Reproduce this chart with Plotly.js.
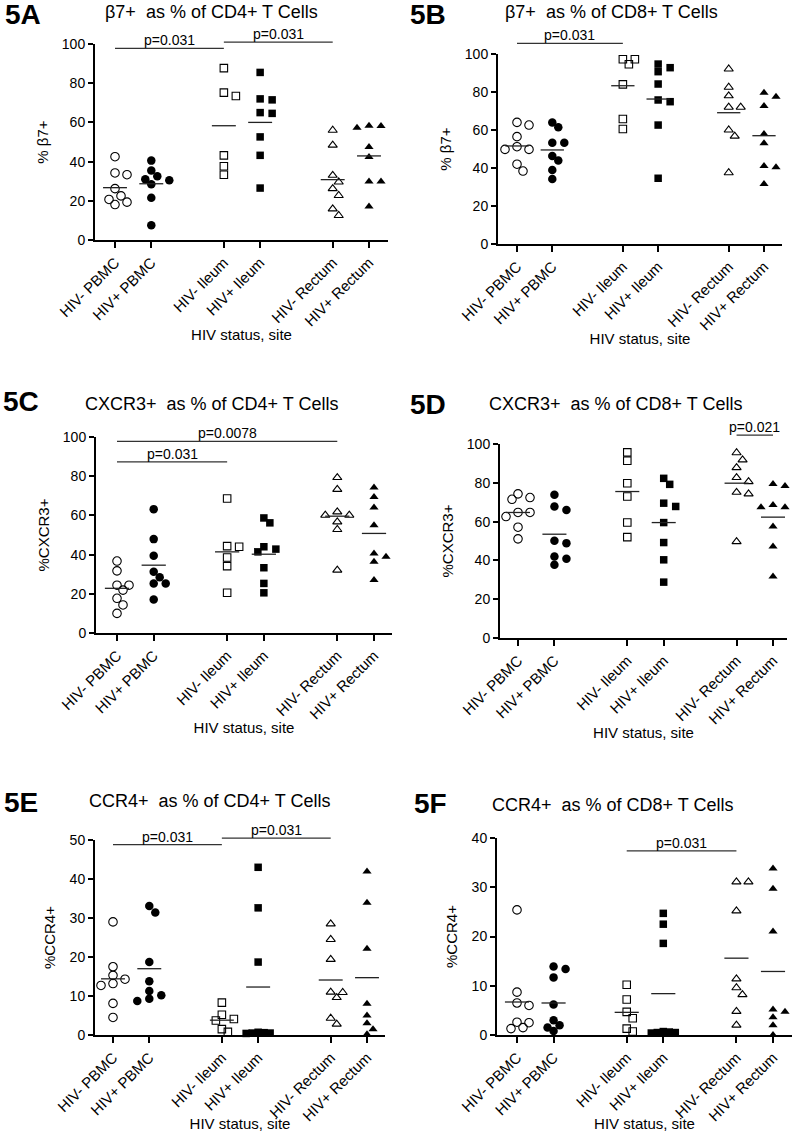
<!DOCTYPE html>
<html><head><meta charset="utf-8">
<script src="https://cdn.plot.ly/plotly-3.0.1.min.js"></script>
<style>html,body{margin:0;padding:0;background:#fff}#chart{width:795px;height:1132px}</style>
</head><body><div id="chart"></div>
<script>
// ---------- categories ----------
const groups = ["HIV- PBMC","HIV+ PBMC","HIV- Ileum","HIV+ Ileum","HIV- Rectum","HIV+ Rectum"];
const groupPos = [0,1,3,4,6,7];
const symbols = ["circle-open","circle","square-open","square","triangle-up-open","triangle-up"];

// ---------- 5A: beta7+ as % of CD4+ ----------
const b7CD4 = [
  [42.5, 34.2, 33.3, 26.2, 22.5, 20.7, 19.3, 18.1],
  [40.5, 35.5, 32.5, 31, 30.5, 28.5, 21.5, 7.5],
  [87.7, 75.2, 73.5, 43.2, 37.6, 33.3],
  [85.5, 72, 71.5, 65, 64.6, 52.6, 43.2, 26.5],
  [56, 48.4, 33, 29.6, 26.2, 22.7, 15.9, 12.5],
  [58.3, 58.1, 57.3, 47.5, 42.4, 29.9, 29.9, 17.1]
];
const b7CD4Mean = [26.7, 28.7, 58.3, 60, 30.8, 42.9];
const b7CD4P = [[0,3,97.8,"p=0.031"],[3,6,101,"p=0.031"]];

// ---------- 5B: beta7+ as % of CD8+ ----------
const b7CD8 = [
  [64, 62.6, 56.5, 51.2, 49.8, 49.8, 42, 38.4],
  [64, 61.4, 53.3, 53.3, 46.3, 43.9, 38.9, 34.2],
  [97.2, 97.2, 94.6, 84, 65.8, 60.5],
  [94.7, 92.8, 90.7, 84.2, 75.8, 74.9, 62.6, 34.6],
  [92.1, 82.5, 78, 72, 72, 60, 56.8, 37.5],
  [79.6, 77.5, 72.6, 57.9, 53, 41, 40.4, 31.6]
];
const b7CD8Mean = [51.6, 49.5, 83.3, 76.3, 69.1, 57];
const b7CD8P = [[0,3,105.6,"p=0.031"]];

// ---------- 5C: CXCR3+ as % of CD4+ ----------
const cxcr3CD4 = [
  [36.7, 31.7, 24.4, 24.4, 21.9, 17.7, 14.3, 10],
  [63.2, 47.9, 39.4, 31.2, 28.4, 25.3, 25.3, 17.1],
  [68.6, 44.3, 44, 38.5, 34.1, 20.5],
  [58.7, 56.2, 44, 42.8, 41.4, 33.3, 25.3, 20.5],
  [79.3, 73.3, 61.8, 60.1, 60.1, 56.7, 52.8, 32.1],
  [74.2, 69.4, 64, 55, 40.6, 38.9, 36.3, 27]
];
const cxcr3CD4Mean = [22.8, 34.6, 41.4, 40.2, 59.6, 50.8];
const cxcr3CD4P = [[0,6,97.8,"p=0.0078"],[0,3,87.3,"p=0.031"]];

// ---------- 5D: CXCR3+ as % of CD8+ ----------
const cxcr3CD8 = [
  [74.3, 72.4, 71.5, 64.7, 64.7, 62.6, 57.1, 51.1],
  [73.8, 67.8, 66, 50.1, 48.9, 42, 40.8, 37.7],
  [95.7, 91.4, 79.8, 72.9, 59.5, 52],
  [82.3, 79.2, 69.5, 67.8, 59.5, 49.2, 40.3, 28.8],
  [95.5, 91.8, 87.8, 82.7, 80.6, 75.1, 74.3, 49.7],
  [79.4, 78.4, 68.6, 67.4, 67.4, 57.5, 47.2, 31.7]
];
const cxcr3CD8Mean = [64.7, 53.5, 75.5, 59.5, 79.8, 62.3];
const cxcr3CD8P = [[6,7,104.6,"p=0.021"]];

// ---------- 5E: CCR4+ as % of CD4+ ----------
const ccr4CD4 = [
  [29, 17.5, 15.3, 14.3, 13.2, 12.7, 8.1, 4.5],
  [33.1, 31.4, 18.7, 13.8, 11.3, 10.2, 9.3, 8.7],
  [8.3, 5.2, 4.1, 3.7, 1.5, 0.8],
  [43, 32.6, 18.7, 0.7, 0.6, 0.5, 0.5, 0.4],
  [28.5, 24.5, 19.4, 11, 10.9, 9.6, 4.3, 2.8],
  [41.9, 33.9, 22.1, 8, 5, 3, 1.5, 0.2]
];
const ccr4CD4Mean = [14.4, 17, 3.8, 12.3, 14.1, 14.7];
const ccr4CD4P = [[0,3,48.8,"p=0.031"],[3,6,50.5,"p=0.031"]];

// ---------- 5F: CCR4+ as % of CD8+ ----------
const ccr4CD8 = [
  [25.4, 8.7, 6.5, 6, 2.6, 2.5, 1.5, 1.3],
  [13.9, 13.4, 11.7, 6.2, 3, 2, 1.5, 0.8],
  [10.2, 7.2, 4.7, 3.4, 1.3, 0.7],
  [24.7, 22.5, 18.6, 0.7, 0.6, 0.5, 0.5, 0.4],
  [31.1, 31.1, 25.2, 11.4, 9.6, 8.2, 4.8, 2],
  [33.8, 29.7, 21, 5.2, 4.7, 3.6, 2, 0]
];
const ccr4CD8Mean = [6.7, 6.5, 4.6, 8.4, 15.6, 12.9];
const ccr4CD8P = [[3,6,37.4,"p=0.031"]];

// ---------- layout geometry (pixels) ----------
const W = 795, H = 1132;
const FONT = 'Arial, "Liberation Sans", sans-serif';
const panels = [
  {data:b7CD4, means:b7CD4Mean, pv:b7CD4P, label:"5A", title:"β7+  as % of CD4+ T Cells", ytitle:"% β7+", ymax:100, dtick:20,
   L:95, R:388, p0:115, p7:369, y0:240, yTop:44, tx:103, ty:12, lx:23, ly:15},
  {data:b7CD8, means:b7CD8Mean, pv:b7CD8P, label:"5B", title:"β7+  as % of CD8+ T Cells", ytitle:"% β7+", ymax:100, dtick:20,
   L:498, R:782, p0:517, p7:764, y0:244, yTop:54, tx:503, ty:12, lx:428, ly:15},
  {data:cxcr3CD4, means:cxcr3CD4Mean, pv:cxcr3CD4P, label:"5C", title:"CXCR3+  as % of CD4+ T Cells", ytitle:"%CXCR3+", ymax:100, dtick:20,
   L:96, R:392, p0:117, p7:374, y0:633, yTop:437, tx:83, ty:404, lx:21, ly:401},
  {data:cxcr3CD8, means:cxcr3CD8Mean, pv:cxcr3CD8P, label:"5D", title:"CXCR3+  as % of CD8+ T Cells", ytitle:"%CXCR3+", ymax:100, dtick:20,
   L:500, R:787, p0:518, p7:773, y0:638, yTop:444, tx:487, ty:404, lx:428, ly:404},
  {data:ccr4CD4, means:ccr4CD4Mean, pv:ccr4CD4P, label:"5E", title:"CCR4+  as % of CD4+ T Cells", ytitle:"%CCR4+", ymax:50, dtick:10,
   L:95, R:385, p0:113, p7:367, y0:1035, yTop:840, tx:87, ty:801, lx:21, ly:802},
  {data:ccr4CD8, means:ccr4CD8Mean, pv:ccr4CD8P, label:"5F", title:"CCR4+  as % of CD8+ T Cells", ytitle:"%CCR4+", ymax:40, dtick:10,
   L:497, R:792, p0:517, p7:773, y0:1035, yTop:838, tx:490, ty:805, lx:430, ly:803}
];

// beeswarm offsets in pixel space, returned in category units
function swarm(vals, pxPerY, u) {
  const order = vals.map((v,i)=>i).sort((a,b)=>vals[b]-vals[a]);
  const placed = [], off = new Array(vals.length).fill(0);
  const step = 6, minD = 7.5;
  order.forEach(i => {
    const y = vals[i]*pxPerY;
    for (let k=0; k<30; k++) {
      const o = (k%2===1 ? 1 : -1) * Math.ceil(k/2) * step;
      const need = y < 4 ? 4.5 : minD;   // points sitting on the axis overlap, as in the source
      if (placed.every(p => Math.hypot(p.x-o, p.y-y) >= need)) {
        off[i] = o; placed.push({x:o, y:y}); break;
      }
    }
  });
  return off.map(o => o/u);
}

const traces = [], layout = {
  width: W, height: H, margin: {l:0, r:0, t:0, b:0},
  paper_bgcolor: "#fff", plot_bgcolor: "#fff", showlegend: false,
  font: {family: FONT, color: "#000"},
  shapes: [], annotations: []
};

panels.forEach((p, idx) => {
  const n = idx + 1;
  const xa = n === 1 ? "x" : "x" + n, ya = n === 1 ? "y" : "y" + n;
  const u = (p.p7 - p.p0) / 7;
  const xr = [(p.L - p.p0)/u, (p.R - p.p0)/u];
  const pxPerY = (p.y0 - p.yTop) / p.ymax;

  layout[n === 1 ? "xaxis" : "xaxis" + n] = {
    domain: [p.L/W, p.R/W], range: xr, anchor: ya,
    tickmode: "array", tickvals: groupPos, ticktext: groups, tickangle: -45,
    ticks: "outside", ticklen: 6, tickwidth: 2, tickcolor: "#000",
    showline: true, linewidth: 2, linecolor: "#000",
    showgrid: false, zeroline: false,
    tickfont: {size: 15, color: "#000", family: FONT},
    title: {text: "HIV status, site", font: {size: 15, color: "#000", family: FONT}, standoff: 0},
    fixedrange: true
  };
  layout[n === 1 ? "yaxis" : "yaxis" + n] = {
    domain: [1 - p.y0/H, 1 - p.yTop/H], range: [0, p.ymax], anchor: xa,
    dtick: p.dtick, tick0: 0,
    ticks: "outside", ticklen: 5, tickwidth: 2, tickcolor: "#000",
    showline: true, linewidth: 2, linecolor: "#000",
    showgrid: false, zeroline: false,
    tickfont: {size: 14, color: "#000", family: FONT},
    title: {text: p.ytitle, font: {size: 15, color: "#000", family: FONT}, standoff: 10},
    fixedrange: true
  };

  // points
  p.data.forEach((vals, g) => {
    const offs = swarm(vals, pxPerY, u);
    const open = symbols[g].endsWith("open");
    traces.push({
      type: "scatter", mode: "markers", xaxis: xa, yaxis: ya,
      x: vals.map((v,i) => groupPos[g] + offs[i]), y: vals,
      cliponaxis: false, hoverinfo: "skip",
      marker: {symbol: symbols[g], size: g < 2 ? 8.5 : (g < 4 ? 7.5 : 8), color: "#000",
               line: {width: open ? 1.1 : 0, color: "#000"}}
    });
  });

  // mean lines
  const mx = [], my = [];
  p.means.forEach((m, g) => { mx.push(groupPos[g]-0.33, groupPos[g]+0.33, null); my.push(m, m, null); });
  traces.push({type: "scatter", mode: "lines", xaxis: xa, yaxis: ya, x: mx, y: my,
               line: {color: "#222", width: 1.3}, hoverinfo: "skip", cliponaxis: false});

  // significance bars
  const fx = x => (x - xr[0]) / (xr[1] - xr[0]);
  p.pv.forEach(([a, b, yv, txt]) => {
    layout.shapes.push({type: "line", xref: xa + " domain", yref: ya + " domain",
      x0: fx(a), x1: fx(b), y0: yv/p.ymax, y1: yv/p.ymax, line: {color: "#333", width: 1.2}});
    layout.annotations.push({xref: xa + " domain", yref: ya + " domain", x: fx((a+b)/2), y: yv/p.ymax,
      text: txt, showarrow: false, xanchor: "center", yanchor: "middle", yshift: 8,
      font: {size: 14, color: "#000", family: FONT}});
  });

  // titles and panel labels
  layout.annotations.push({xref: "paper", yref: "paper", x: p.tx/W, y: 1 - p.ty/H, text: p.title,
    showarrow: false, xanchor: "left", yanchor: "middle", font: {size: 18, color: "#000", family: FONT}});
  layout.annotations.push({xref: "paper", yref: "paper", x: p.lx/W, y: 1 - p.ly/H, text: "<b>" + p.label + "</b>",
    showarrow: false, xanchor: "center", yanchor: "middle", font: {size: 28, color: "#000", family: FONT}});
});

Plotly.newPlot("chart", traces, layout, {staticPlot: true, displayModeBar: false});
</script>
</body></html>
